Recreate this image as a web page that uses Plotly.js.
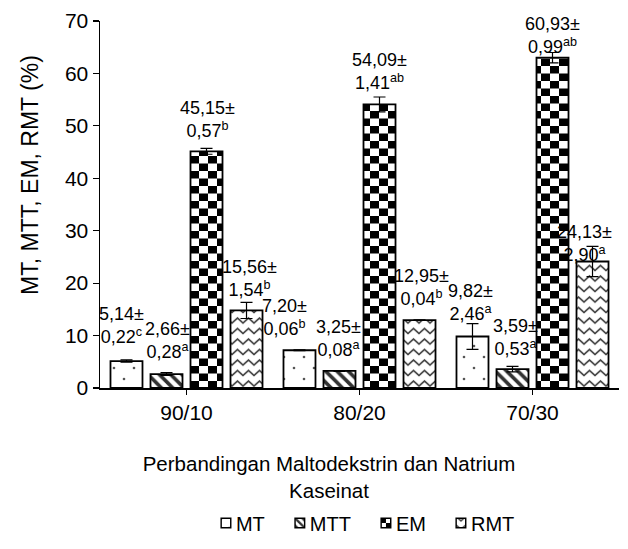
<!DOCTYPE html>
<html><head><meta charset="utf-8">
<script src="https://cdn.plot.ly/plotly-3.0.1.min.js"></script>
<style>html,body{margin:0;padding:0;background:#fff}</style>
</head><body>
<div id="chart" style="width:628px;height:549px"></div>
<script>
// ---- data ----
const categories = ['90/10', '80/20', '70/30'];
const seriesNames = ['MT', 'MTT', 'EM', 'RMT'];
const mtValues  = [5.14, 7.20, 9.82];
const mttValues = [2.66, 3.25, 3.59];
const emValues  = [45.15, 54.09, 63.0];
const rmtValues = [14.8, 12.95, 24.13];
const mtErr  = [0.22, 0.06, 2.46];
const mttErr = [0.28, 0.08, 0.53];
const emErr  = [0.57, 1.41, 0.99];
const rmtErr = [1.54, 0.04, 2.90];
const mtLabels  = ['5,14±<br>0,22<sup>c</sup>', '7,20±<br>0,06<sup>b</sup>', '9,82±<br>2,46<sup>a</sup>'];
const mttLabels = ['2,66±<br>0,28<sup>a</sup>', '3,25±<br>0,08<sup>a</sup>', '3,59±<br>0,53<sup>a</sup>'];
const emLabels  = ['45,15±<br>0,57<sup>b</sup>', '54,09±<br>1,41<sup>ab</sup>', '60,93±<br>0,99<sup>ab</sup>'];
const rmtLabels = ['15,56±<br>1,54<sup>b</sup>', '12,95±<br>0,04<sup>b</sup>', '24,13±<br>2,90<sup>a</sup>'];

// ---- label placement (layout only) ----
const labelY  = [[12.0, 13.4, 16.3], [9.0, 9.5, 9.7], [51.3, 60.3, 67.2], [20.8, 19.2, 27.6]];
const labelDx = [[-5, -15, -2], [1, -1, 3], [1, 0, 0], [3, 2, -8]];

const FONT = 'Liberation Sans, Arial, sans-serif';
const BARGAP = 0.075;
const values = [mtValues, mttValues, emValues, rmtValues];
const errs = [mtErr, mttErr, emErr, rmtErr];
const labels = [mtLabels, mttLabels, emLabels, rmtLabels];
const patterns = [
  {shape: '.', fgcolor: '#030303', bgcolor: '#ffffff', size: 10, solidity: 0.05},
  {shape: '\\', fgcolor: '#333333', bgcolor: '#ffffff', size: 8, solidity: 0.45},
  {shape: 'x', fgcolor: '#010101', bgcolor: '#ffffff', size: 10, solidity: 0.3},
  {shape: '-', fgcolor: '#020202', bgcolor: '#ffffff', size: 10, solidity: 0.3}
];

const traces = seriesNames.map((name, j) => ({
  type: 'bar', name: name, x: categories, y: values[j],
  marker: {color: '#ffffff', line: {color: '#000', width: 1.8}, pattern: patterns[j]},
  error_y: {type: 'data', array: errs[j], visible: true, color: '#000', thickness: 1.2, width: 6},
  hoverinfo: 'none'
}));

const slot = (1 - BARGAP) / seriesNames.length;
const annotations = [];
seriesNames.forEach((name, j) => {
  categories.forEach((c, i) => {
    annotations.push({
      xref: 'x', yref: 'y', x: i + (j - (seriesNames.length - 1) / 2) * slot, y: labelY[j][i],
      xshift: labelDx[j][i], text: labels[j][i], showarrow: false,
      xanchor: 'center', yanchor: 'middle', align: 'center',
      font: {family: FONT, size: 18, color: '#000'}
    });
  });
});

const layout = {
  width: 628, height: 549,
  margin: {l: 100, r: 9, t: 21, b: 161},
  paper_bgcolor: '#fff', plot_bgcolor: '#fff',
  barmode: 'group', bargap: BARGAP, bargroupgap: 0.2,
  font: {family: FONT, size: 20, color: '#000'},
  showlegend: true,
  legend: {orientation: 'h', xref: 'container', yref: 'container', x: 0.57, xanchor: 'center',
           y: 26 / 549, yanchor: 'middle', font: {family: FONT, size: 20, color: '#000'},
           traceorder: 'normal'},
  xaxis: {
    type: 'category', range: [-0.5, 2.5], showline: true, linecolor: '#000', linewidth: 1.5,
    ticks: 'outside', ticklen: 5, tickcolor: '#000', tickwidth: 1.2,
    tickfont: {family: FONT, size: 21, color: '#000'}, showgrid: false, zeroline: false,
    title: {text: 'Perbandingan Maltodekstrin dan Natrium<br>Kaseinat', font: {family: FONT, size: 20.5, color: '#000'}, standoff: 20},
    automargin: false
  },
  yaxis: {
    range: [0, 70], dtick: 10, showline: true, linecolor: '#000', linewidth: 1.5,
    ticks: 'outside', ticklen: 6, tickcolor: '#000', tickwidth: 1.2,
    tickfont: {family: FONT, size: 21, color: '#000'}, showgrid: false, zeroline: false,
    title: {text: 'MT, MTT, EM, RMT (%)', font: {family: FONT, size: 23, color: '#000'}, standoff: 12},
    automargin: false
  },
  annotations: annotations
};

const SVGNS = 'http://www.w3.org/2000/svg';
function mk(tag, attrs) {
  const e = document.createElementNS(SVGNS, tag);
  for (const k in attrs) e.setAttribute(k, attrs[k]);
  return e;
}
function customPatterns() {
  document.querySelectorAll('pattern').forEach(p => {
    if (p.getAttribute('data-custom')) return;
    const html = p.outerHTML;
    let kind = null;
    if (/rgb\(1, 1, 1\)|#010101/i.test(html)) kind = 'em';
    else if (/rgb\(2, 2, 2\)|#020202/i.test(html)) kind = 'rmt';
    else if (/rgb\(3, 3, 3\)|#030303/i.test(html)) kind = 'mt';
    if (!kind) return;
    p.setAttribute('data-custom', '1');
    while (p.firstChild) p.removeChild(p.firstChild);
    p.removeAttribute('patternTransform');
    if (kind === 'em') {
      const w = 9, h = 7.5;
      p.setAttribute('width', 2 * w); p.setAttribute('height', 2 * h);
      p.appendChild(mk('rect', {x: 0, y: 0, width: 2 * w, height: 2 * h, fill: '#fff'}));
      p.appendChild(mk('rect', {x: 0, y: 0, width: w, height: h, fill: '#000'}));
      p.appendChild(mk('rect', {x: w, y: h, width: w, height: h, fill: '#000'}));
    } else if (kind === 'rmt') {
      const w = 11, h = 10.5;
      p.setAttribute('width', w); p.setAttribute('height', h);
      p.appendChild(mk('rect', {x: 0, y: 0, width: w, height: h, fill: '#fff'}));
      p.appendChild(mk('path', {d: 'M-1,8.9 L0,8 L5.5,3 L11,8 L12,8.9', fill: 'none', stroke: '#3a3a3a', 'stroke-width': 1.7}));
    } else {
      const w = 20, h = 22;
      p.setAttribute('width', w); p.setAttribute('height', h);
      p.appendChild(mk('rect', {x: 0, y: 0, width: w, height: h, fill: '#fff'}));
      p.appendChild(mk('circle', {cx: 4, cy: 6, r: 1.3, fill: '#555'}));
      p.appendChild(mk('circle', {cx: 14, cy: 17, r: 1.3, fill: '#555'}));
    }
  });
}
// move a drawn group so that its bounding box centre lands on (cx, cy)
function centreOn(sel, cx, cy) {
  const g = document.querySelector(sel);
  if (!g || g.getAttribute('data-moved')) return;
  const b = g.getBBox();
  g.setAttribute('transform', 'translate(' + (cx - (b.x + b.width / 2)) + ',' + (cy - (b.y + b.height / 2)) + ')');
  g.setAttribute('data-moved', '1');
}
function finish() {
  customPatterns();
  document.querySelectorAll('.legend .legendpoints').forEach(g => {
    g.setAttribute('transform', 'translate(14,0) scale(0.8)');
  });
  centreOn('.g-ytitle', 30, 175);
  centreOn('.g-xtitle', 329, 477);
}

Plotly.newPlot('chart', traces, layout, {staticPlot: true, displayModeBar: false}).then(finish);
finish();
</script>
</body></html>
